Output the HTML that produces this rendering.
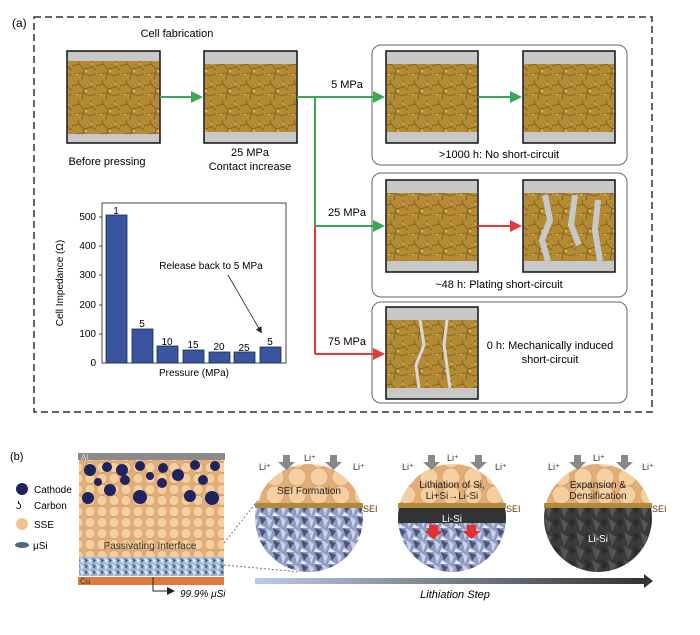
<!DOCTYPE html><html><head><style>body{margin:0;background:#fff}svg{display:block;font-family:"Liberation Sans",sans-serif}</style></head><body>
<svg width="700" height="635" viewBox="0 0 700 635" xmlns="http://www.w3.org/2000/svg">
<defs>
<pattern id="gr" width="24" height="20" patternUnits="userSpaceOnUse">
<rect width="24" height="20" fill="#b58a35"/>
<path d="M0 6 L7 4 L12 9 L20 7 L24 10 M7 4 L6 0 M12 9 L10 20 M20 7 L19 0 M3 14 L10 13 L18 16 L24 14" stroke="#7a5a1c" stroke-width="0.8" fill="none"/>
<path d="M13 10 l2 2 M4 15 l2 -1 M19 3 l1 2" stroke="#f2c94c" stroke-width="1.2"/>
</pattern>
<pattern id="si" width="14" height="12" patternUnits="userSpaceOnUse">
<rect width="14" height="12" fill="#8f9bc2"/>
<path d="M0 0 L6 4 L3 12 Z" fill="#c9d2ee"/><path d="M7 0 L14 3 L10 9 Z" fill="#4b5272"/><path d="M8 8 L14 12 L6 12 Z" fill="#e3e8f8"/>
</pattern>
<pattern id="si2" width="8" height="6" patternUnits="userSpaceOnUse">
<rect width="8" height="6" fill="#9fb6d6"/><path d="M0 0 L4 2 L2 6Z" fill="#e2ecf8"/><path d="M4 0 L8 2 L6 5Z" fill="#4e6480"/>
</pattern>
<pattern id="lisi" width="16" height="14" patternUnits="userSpaceOnUse">
<rect width="16" height="14" fill="#3a3a3a"/><path d="M0 0 L8 5 L4 14 Z" fill="#555"/><path d="M9 0 L16 4 L11 10 Z" fill="#2a2a2a"/>
</pattern>
<pattern id="sse" width="12" height="11" patternUnits="userSpaceOnUse">
<rect width="12" height="11" fill="#e3ad78"/><circle cx="6" cy="5.5" r="5" fill="#f6cfa0" stroke="#c99765" stroke-width="0.5"/>
</pattern>
<pattern id="sseb" width="22" height="18" patternUnits="userSpaceOnUse">
<rect width="22" height="18" fill="#e3ad78"/><circle cx="11" cy="9" r="9" fill="#f6cfa0" stroke="#c99765" stroke-width="0.6"/>
</pattern>
<marker id="ag" markerWidth="6" markerHeight="6" refX="5" refY="3" orient="auto"><path d="M0 0 L6 3 L0 6Z" fill="#3aa856"/></marker>
<marker id="ar" markerWidth="6" markerHeight="6" refX="5" refY="3" orient="auto"><path d="M0 0 L6 3 L0 6Z" fill="#e03a3a"/></marker>
<marker id="ak" markerWidth="8" markerHeight="8" refX="6" refY="4" orient="auto"><path d="M0 0 L8 4 L0 8Z" fill="#222"/></marker>
<linearGradient id="lg" x1="0" x2="1"><stop offset="0" stop-color="#b8cbe4"/><stop offset="1" stop-color="#333"/></linearGradient>
</defs>
<text x="12" y="27" font-size="12">(a)</text>
<rect x="34" y="17" width="618" height="395" fill="none" stroke="#333" stroke-width="1.5" stroke-dasharray="7,4"/>
<text x="177" y="37" font-size="11" text-anchor="middle">Cell fabrication</text>
<g stroke="#111" stroke-width="1.5">
<rect x="67" y="51" width="93" height="92" fill="#c8c8c8"/><rect x="204" y="51" width="93" height="92" fill="#c8c8c8"/>
<rect x="386" y="51" width="92" height="92" fill="#c8c8c8"/><rect x="523" y="51" width="92" height="92" fill="#c8c8c8"/>
<rect x="386" y="180" width="92" height="92" fill="#c8c8c8"/><rect x="523" y="180" width="92" height="92" fill="#c8c8c8"/>
<rect x="386" y="307" width="92" height="92" fill="#c8c8c8"/>
</g>
<rect x="68" y="61" width="91" height="73" fill="url(#gr)"/>
<rect x="205" y="64" width="91" height="68" fill="url(#gr)"/>
<rect x="387" y="64" width="90" height="68" fill="url(#gr)"/>
<rect x="524" y="64" width="90" height="68" fill="url(#gr)"/>
<rect x="387" y="193" width="90" height="68" fill="url(#gr)"/>
<rect x="524" y="193" width="90" height="68" fill="url(#gr)"/>
<path d="M545 195 l5 25 -8 20 6 21 M575 195 l-4 30 8 20 M598 200 l-3 30 5 31" stroke="#c8c8c8" stroke-width="6" fill="none"/>
<rect x="387" y="320" width="90" height="68" fill="url(#gr)"/>
<path d="M420 320 l4 25 -8 20 3 23 M447 320 l-3 25 6 43" stroke="#d8d8d8" stroke-width="3" fill="none"/>
<text x="107" y="165" font-size="11" text-anchor="middle">Before pressing</text>
<text x="250" y="156" font-size="11" text-anchor="middle">25 MPa</text>
<text x="250" y="170" font-size="11" text-anchor="middle">Contact increase</text>
<g stroke="#3aa856" stroke-width="2" fill="none">
<line x1="160" y1="97" x2="201" y2="97" marker-end="url(#ag)"/>
<line x1="297" y1="97" x2="383" y2="97" marker-end="url(#ag)"/>
<line x1="315" y1="97" x2="315" y2="226"/>
<line x1="315" y1="226" x2="383" y2="226" marker-end="url(#ag)"/>
<line x1="478" y1="97" x2="520" y2="97" marker-end="url(#ag)"/>
</g>
<g stroke="#e03a3a" stroke-width="2" fill="none">
<line x1="315" y1="226" x2="315" y2="354"/>
<line x1="315" y1="354" x2="383" y2="354" marker-end="url(#ar)"/>
<line x1="478" y1="226" x2="520" y2="226" marker-end="url(#ar)"/>
</g>
<text x="347" y="88" font-size="11" text-anchor="middle">5 MPa</text>
<text x="347" y="216" font-size="11" text-anchor="middle">25 MPa</text>
<text x="347" y="345" font-size="11" text-anchor="middle">75 MPa</text>
<g fill="none" stroke="#666" stroke-width="1">
<rect x="372" y="45" width="255" height="120" rx="9"/>
<rect x="372" y="173" width="255" height="124" rx="9"/>
<rect x="372" y="302" width="255" height="101" rx="9"/>
</g>
<text x="499" y="158" font-size="11" text-anchor="middle">&gt;1000 h: No short-circuit</text>
<text x="499" y="288" font-size="11" text-anchor="middle">~48 h: Plating short-circuit</text>
<text x="550" y="349" font-size="11" text-anchor="middle">0 h: Mechanically induced</text>
<text x="550" y="363" font-size="11" text-anchor="middle">short-circuit</text>
<!-- bar chart -->
<rect x="102" y="203" width="184" height="160" fill="none" stroke="#444" stroke-width="1"/>
<g fill="#3a54a0" stroke="#1d2a55" stroke-width="0.8">
<rect x="106" y="215" width="21" height="148"/><rect x="132" y="329" width="21" height="34"/>
<rect x="157" y="346" width="21" height="17"/><rect x="183" y="350" width="21" height="13"/>
<rect x="209" y="352" width="21" height="11"/><rect x="234" y="352" width="21" height="11"/>
<rect x="260" y="347" width="21" height="16"/>
</g>
<g font-size="10" text-anchor="middle"><text x="116" y="214">1</text><text x="142" y="327">5</text><text x="167" y="345">10</text><text x="193" y="348">15</text><text x="219" y="350">20</text><text x="244" y="351">25</text><text x="270" y="345">5</text></g>
<g font-size="10" text-anchor="end"><text x="96" y="220">500</text><text x="96" y="249">400</text><text x="96" y="278">300</text><text x="96" y="308">200</text><text x="96" y="337">100</text><text x="96" y="366">0</text></g>
<g stroke="#444"><line x1="99" y1="217" x2="102" y2="217"/><line x1="99" y1="246" x2="102" y2="246"/><line x1="99" y1="275" x2="102" y2="275"/><line x1="99" y1="305" x2="102" y2="305"/><line x1="99" y1="334" x2="102" y2="334"/></g>
<text x="194" y="376" font-size="10" text-anchor="middle">Pressure (MPa)</text>
<text transform="translate(63,283) rotate(-90)" font-size="10" text-anchor="middle">Cell Impedance (Ω)</text>
<text x="211" y="269" font-size="10" text-anchor="middle">Release back to 5 MPa</text>
<line x1="228" y1="275" x2="261" y2="332" stroke="#222" stroke-width="0.8" marker-end="url(#ak)"/>
<!-- part b -->
<text x="10" y="460" font-size="11">(b)</text>
<rect x="78" y="453" width="147" height="7" fill="#8a8a8a"/><text x="81" y="460" font-size="8" fill="#ddd">Al</text>
<rect x="79" y="460" width="145" height="48" fill="url(#sse)"/>
<g fill="#1f2460"><circle cx="90" cy="470" r="6"/><circle cx="107" cy="467" r="5"/><circle cx="122" cy="470" r="6"/><circle cx="140" cy="466" r="5"/><circle cx="163" cy="468" r="5"/><circle cx="178" cy="475" r="6"/><circle cx="195" cy="465" r="5"/><circle cx="215" cy="466" r="5"/><circle cx="88" cy="498" r="6"/><circle cx="110" cy="490" r="6"/><circle cx="125" cy="480" r="5"/><circle cx="140" cy="497" r="7"/><circle cx="162" cy="483" r="5"/><circle cx="190" cy="496" r="6"/><circle cx="212" cy="498" r="7"/><circle cx="203" cy="480" r="5"/><circle cx="98" cy="482" r="4"/><circle cx="150" cy="476" r="4"/></g>
<rect x="79" y="508" width="145" height="49" fill="url(#sse)"/>
<text x="150" y="549" font-size="10" text-anchor="middle" fill="#333">Passivating Interface</text>
<rect x="79" y="557" width="145" height="19" fill="url(#si2)"/>
<rect x="78" y="577" width="146" height="8" fill="#e07a3c"/><text x="80" y="584" font-size="8" fill="#333">Cu</text>
<circle cx="22" cy="489" r="6" fill="#1f2460"/><text x="34" y="493" font-size="10">Cathode</text>
<text x="16" y="509" font-size="11">ʖ</text><text x="34" y="509" font-size="10">Carbon</text>
<circle cx="22" cy="524" r="6" fill="#f2c190"/><text x="34" y="528" font-size="10">SSE</text>
<ellipse cx="22" cy="545" rx="7" ry="3" fill="#4a6a80"/><text x="33" y="549" font-size="10">μSi</text>
<path d="M153 577 V591 H173" stroke="#222" fill="none" marker-end="url(#ak)"/>
<text x="180" y="597" font-size="10" font-style="italic">99.9% μSi</text>
<line x1="224" y1="543" x2="263" y2="494" stroke="#777" stroke-dasharray="2,2"/>
<line x1="224" y1="565" x2="300" y2="572" stroke="#777" stroke-dasharray="2,2"/>
<clipPath id="c1"><circle cx="309" cy="518" r="54"/></clipPath>
<clipPath id="c2"><circle cx="452" cy="518" r="54"/></clipPath>
<clipPath id="c3"><circle cx="598" cy="518" r="54"/></clipPath>
<g clip-path="url(#c1)"><rect x="250" y="460" width="120" height="45" fill="url(#sseb)"/><rect x="250" y="505" width="120" height="70" fill="url(#si)"/></g>
<g clip-path="url(#c2)"><rect x="395" y="460" width="120" height="45" fill="url(#sseb)"/><rect x="395" y="505" width="120" height="70" fill="url(#si)"/><rect x="395" y="505" width="120" height="18" fill="#333"/></g>
<g clip-path="url(#c3)"><rect x="540" y="460" width="120" height="45" fill="url(#sseb)"/><rect x="540" y="505" width="120" height="70" fill="url(#lisi)"/></g>
<rect x="255" y="503" width="108" height="5" fill="#b08a3a"/><rect x="398" y="503" width="108" height="5" fill="#b08a3a"/><rect x="544" y="503" width="108" height="5" fill="#b08a3a"/>
<g font-size="9" fill="#5a3a1a"><text x="363" y="512">SEI</text><text x="506" y="512">SEI</text><text x="652" y="512">SEI</text></g>
<g font-size="10" text-anchor="middle" fill="#222"><text x="309" y="494">SEI Formation</text><text x="452" y="488">Lithiation of Si,</text><text x="452" y="499">Li+Si→Li-Si</text><text x="598" y="488">Expansion &amp;</text><text x="598" y="499">Densification</text></g>
<text x="452" y="522" font-size="10" fill="#fff" text-anchor="middle">Li-Si</text>
<text x="598" y="542" font-size="10" fill="#fff" text-anchor="middle">Li-Si</text>
<g fill="#e53030"><path d="M429 525 h9 v6 h5 l-9.5 8 -9.5 -8 h5z"/><path d="M467 525 h9 v6 h5 l-9.5 8 -9.5 -8 h5z"/></g>
<g fill="#888"><path d="M283 455 h7 v7 h5 l-8.5 8 -8.5 -8 h5z"/><path d="M330 455 h7 v7 h5 l-8.5 8 -8.5 -8 h5z"/><path d="M428 455 h7 v7 h5 l-8.5 8 -8.5 -8 h5z"/><path d="M475 455 h7 v7 h5 l-8.5 8 -8.5 -8 h5z"/><path d="M574 455 h7 v7 h5 l-8.5 8 -8.5 -8 h5z"/><path d="M621 455 h7 v7 h5 l-8.5 8 -8.5 -8 h5z"/></g>
<g font-size="9" fill="#333"><text x="259" y="470">Li⁺</text><text x="304" y="461">Li⁺</text><text x="353" y="470">Li⁺</text><text x="402" y="470">Li⁺</text><text x="447" y="461">Li⁺</text><text x="495" y="470">Li⁺</text><text x="548" y="470">Li⁺</text><text x="593" y="461">Li⁺</text><text x="642" y="470">Li⁺</text></g>
<rect x="255" y="578" width="390" height="6" fill="url(#lg)"/><path d="M644 574 L653 581 L644 588Z" fill="#333"/>
<text x="455" y="598" font-size="11" font-style="italic" text-anchor="middle">Lithiation Step</text>
</svg></body></html>
